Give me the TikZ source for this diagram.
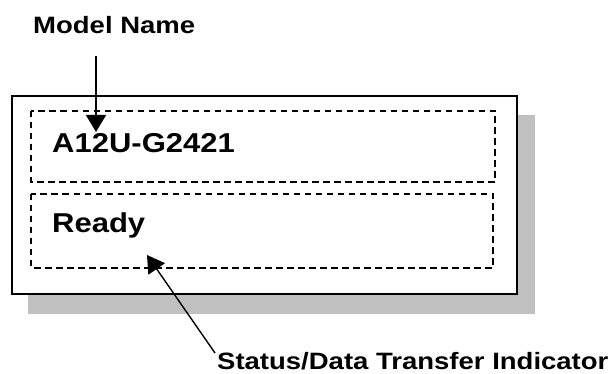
\documentclass[tikz,border=0pt]{standalone}
\usepackage{fontspec}
\setmainfont{Liberation Sans}
\usepackage{xcolor}
\usepackage{tikz}
\usetikzlibrary{arrows.meta}

\definecolor{shadowgray}{RGB}{192,192,192}

\begin{document}
\begin{tikzpicture}[
    x=1pt, y=-1pt,
    >={Triangle[length=17pt,width=20pt]},
    callout/.style={font=\bfseries\fontsize{27.5}{30}\selectfont, anchor=base west, inner sep=0pt, yscale=0.86, transform shape},
    paneltext/.style={font=\bfseries\fontsize{31}{34}\selectfont, anchor=base west, inner sep=0pt, yscale=0.88, transform shape},
    dashbox/.style={draw, line width=1.5pt, dash pattern=on 6.5pt off 4.5pt}
]

% Page
\useasboundingbox[fill=white] (0,0) rectangle (614,374);

% Shadow and display frame
\fill[shadowgray] (28,115) rectangle (535,314);
\draw[fill=white, line width=1.4pt] (12,96) rectangle (517,294);

% Display lines
\draw[dashbox] (31,111) rectangle (495,182);
\draw[dashbox] (31,194) rectangle (493,268);
\node[paneltext] (model) at (52,152.5) {A12U-G2421};
\node[paneltext] (ready) at (52,233) {Ready};

% Labels
\node[callout] (mname) at (33,33.3) {Model Name};
\node[callout] (status) at (217,369.5) {Status/Data Transfer Indicator};

% Pointers
\coordinate (mtail) at (96,56);
\coordinate (mtip) at (96,132);
\coordinate (stail) at (215,353);
\coordinate (stip) at (147,255);
\draw[->, line width=1.4pt] (mtail) -- (mtip);
\draw[->, line width=1.4pt] (stail) -- (stip);

\end{tikzpicture}
\end{document}
